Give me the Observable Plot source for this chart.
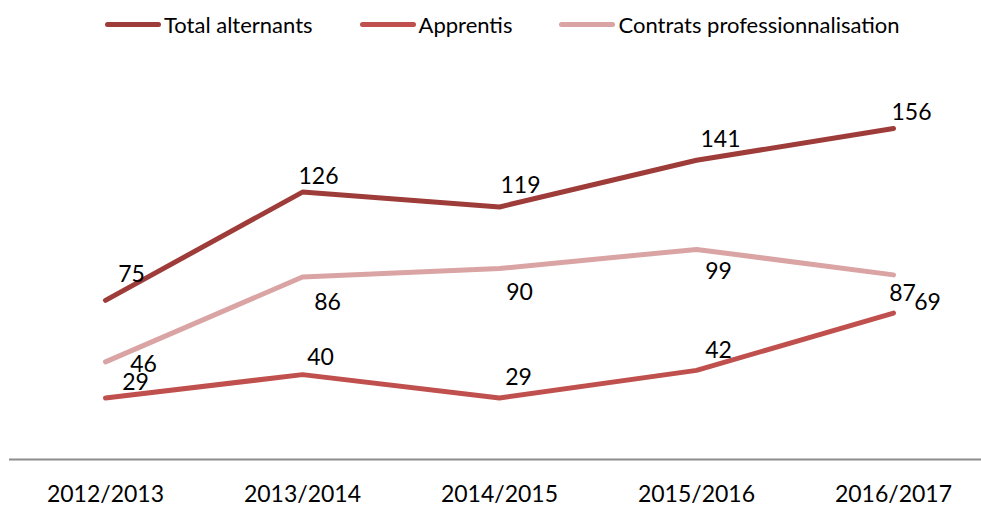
<!DOCTYPE html>
<html>
<head>
<meta charset="utf-8">
<script src="https://cdn.jsdelivr.net/npm/d3@7"></script>
<script src="https://cdn.jsdelivr.net/npm/@observablehq/plot@0.6"></script>
<style>
  body { margin: 0; background: #fff; font-family: Lato, "Open Sans", sans-serif; }
  #legend { position: relative; height: 48px; display: flex; align-items: center; padding-left: 105px; box-sizing: border-box; }
  .item { display: flex; align-items: center; margin-right: 47px; font-size: 22px; color: #000; }
  .sw { width: 56px; height: 5px; border-radius: 3px; margin-right: 3px; }
  #chart svg { overflow: visible; }
</style>
</head>
<body>
<div id="legend"></div>
<div id="chart"></div>
<script>
const years = ["2012/2013", "2013/2014", "2014/2015", "2015/2016", "2016/2017"];
const seriesNames = ["Total alternants", "Apprentis", "Contrats professionnalisation"];
const totalAlternants = [75, 126, 119, 141, 156];
const apprentis = [29, 40, 29, 42, 69];
const contratsPro = [46, 86, 90, 99, 87];

const colors = ["#9e3c3a", "#c0504d", "#d9a4a3"];

// label offsets (styling only), per series per point
const labelOffsets = {
  "Total alternants": [[26,-26],[16,-15],[21,-21],[24,-21],[18,-16]],
  "Apprentis": [[30,-15],[18,-17],[19,-20],[22,-20],[34,-10]],
  "Contrats professionnalisation": [[38,3],[25,26],[20,24],[22,22],[9,19]]
};

const valuesBySeries = [totalAlternants, apprentis, contratsPro];
const data = [];
seriesNames.forEach((s, i) => {
  years.forEach((y, j) => data.push({series: s, year: y, value: valuesBySeries[i][j], idx: j}));
});

// legend
const legend = document.getElementById("legend");
seriesNames.forEach((s, i) => {
  const it = document.createElement("div");
  it.className = "item";
  it.innerHTML = `<span class="sw" style="background:${colors[i]}"></span><span>${s}</span>`;
  legend.appendChild(it);
});

const labelMarks = seriesNames.map(s => {
  const d = data.filter(r => r.series === s);
  return d.map(r => Plot.text([r], {
    x: "year", y: "value", text: d => String(d.value),
    dx: labelOffsets[s][r.idx][0], dy: labelOffsets[s][r.idx][1],
    fontSize: 23, fill: "#000", textAnchor: "middle", lineAnchor: "middle"
  }));
}).flat();

const chart = Plot.plot({
  width: 981,
  height: 458,
  marginLeft: 9,
  marginRight: 0,
  marginTop: 29,
  marginBottom: 47,
  style: { fontFamily: "Lato, 'Open Sans', sans-serif", background: "#fff" },
  x: { type: "point", domain: years, range: [105, 893], padding: 0 },
  y: { domain: [0, 180], axis: null },
  color: { domain: seriesNames, range: colors },
  marks: [
    Plot.ruleY([0], { stroke: "#8c8c8c", strokeWidth: 2 }),
    Plot.axisX({ tickSize: 0, tickPadding: 26, fontSize: 23, fill: "#000", label: null }),
    Plot.line(data, { x: "year", y: "value", z: "series", stroke: "series", strokeWidth: 5, strokeLinecap: "round", strokeLinejoin: "miter" }),
    ...labelMarks
  ]
});
document.getElementById("chart").appendChild(chart);
</script>
</body>
</html>
